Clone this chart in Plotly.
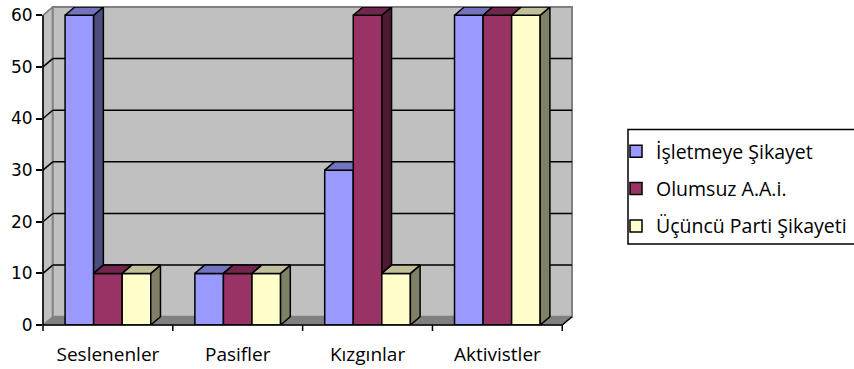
import plotly.graph_objects as go

# ---------------- data ----------------
categories = ["Seslenenler", "Pasifler", "Kızgınlar", "Aktivistler"]
series_names = ["İşletmeye Şikayet", "Olumsuz A.A.i.", "Üçüncü Parti Şikayeti"]
isletmeye_sikayet = [60, 10, 30, 60]
olumsuz_aai = [10, 10, 60, 60]
ucuncu_parti = [10, 10, 10, 60]
y_tick_values = [0, 10, 20, 30, 40, 50, 60]

series_values = [isletmeye_sikayet, olumsuz_aai, ucuncu_parti]

# ---------------- style ----------------
front_colors = ["#9999FF", "#993366", "#FFFFCC"]
top_colors = ["#7373BF", "#73264D", "#BFBF99"]
side_colors = ["#4D4D80", "#4D1A33", "#808066"]
WALL = "#C0C0C0"
WALL_EDGE = "#808080"
FLOOR = "#808080"

BARGAP = 0.34
NS = len(series_values)
W = (1 - BARGAP) / NS
DX = 0.075          # depth offset (x units)
DY = 1.6            # depth offset (y units)
YMAX = max(y_tick_values)
XMIN, XMAX = -0.5, len(categories) - 0.5 + DX
YMIN, YTOP = 0, YMAX + DY

W_PX, H_PX = 854, 369
ML, MR, MT, MB = 43, 282, 7, 44
PLOT_W = W_PX - ML - MR
PLOT_H = H_PX - MT - MB


def px(xd):
    return (xd - XMIN) / (XMAX - XMIN)


def py(yd):
    return (yd - YMIN) / (YTOP - YMIN)


fig = go.Figure()

# front faces as real bars (legend comes from these)
for j, (name, vals) in enumerate(zip(series_names, series_values)):
    fig.add_trace(go.Bar(
        x=list(range(len(categories))), y=vals, name=name,
        marker=dict(color=front_colors[j], line=dict(color="black", width=1.5)),
        legendgroup=name, hoverinfo="skip",
    ))

# side and top faces (painter order, left to right, occlusion-clipped)
edge = dict(color="black", width=1.5)
for i in range(len(categories)):
    for j in range(NS):
        h = series_values[j][i]
        left = i - (1 - BARGAP) / 2 + j * W
        right = left + W
        h_next = series_values[j + 1][i] if j + 1 < NS else None
        # side face
        if h_next is None:
            sx = [right, right + DX, right + DX, right, right]
            sy = [0, DY, h + DY, h, 0]
        elif h > h_next:
            sx = [right, right + DX, right + DX, right, right]
            sy = [h_next, h_next + DY, h + DY, h, h_next]
        else:
            sx = sy = None
        if sx is not None:
            fig.add_trace(go.Scatter(
                x=sx, y=sy, mode="lines", fill="toself", fillcolor=side_colors[j],
                line=edge, showlegend=False, hoverinfo="skip"))
        # top face
        if h_next is not None and h_next > h:
            tx = [left, right, right, left + DX, left]
        else:
            tx = [left, right, right + DX, left + DX, left]
        ty = [h, h, h + DY, h + DY, h]
        fig.add_trace(go.Scatter(
            x=tx, y=ty, mode="lines", fill="toself", fillcolor=top_colors[j],
            line=edge, showlegend=False, hoverinfo="skip"))

shapes = []
x0w, x1w = XMIN, len(categories) - 0.5
# left side wall
shapes.append(dict(type="path", xref="paper", yref="paper", layer="below",
                   path=f"M{px(x0w)},{py(0)} L{px(x0w + DX)},{py(DY)} L{px(x0w + DX)},{py(YMAX + DY)} L{px(x0w)},{py(YMAX)} Z",
                   fillcolor=WALL, line=dict(color=WALL_EDGE, width=1.5)))
# floor
shapes.append(dict(type="path", xref="paper", yref="paper", layer="below",
                   path=f"M{px(x0w)},{py(0)} L{px(x1w)},{py(0)} L{px(x1w + DX)},{py(DY)} L{px(x0w + DX)},{py(DY)} Z",
                   fillcolor=FLOOR, line=dict(color=WALL_EDGE, width=1)))
# back wall
shapes.append(dict(type="rect", xref="paper", yref="paper", layer="below",
                   x0=px(x0w + DX), x1=px(x1w + DX), y0=py(DY), y1=py(YMAX + DY),
                   fillcolor=WALL, line=dict(color=WALL_EDGE, width=2)))
# gridlines on back wall + diagonals on side wall
for v in y_tick_values[1:]:
    col = "black" if v < YMAX else WALL_EDGE
    if v < YMAX:
        shapes.append(dict(type="line", xref="paper", yref="paper", layer="below",
                           x0=px(x0w + DX), x1=px(x1w + DX), y0=py(v + DY), y1=py(v + DY),
                           line=dict(color=col, width=1.5)))
    shapes.append(dict(type="line", xref="paper", yref="paper", layer="below",
                       x0=px(x0w), x1=px(x0w + DX), y0=py(v), y1=py(v + DY),
                       line=dict(color=col, width=1.5)))
# floor right diagonal
shapes.append(dict(type="line", xref="paper", yref="paper",
                   x0=px(x1w), x1=px(x1w + DX), y0=py(0), y1=py(DY),
                   line=dict(color="black", width=1.5)))
# axis lines
shapes.append(dict(type="line", xref="paper", yref="paper",
                   x0=px(x0w), x1=px(x0w), y0=py(0), y1=py(YMAX),
                   line=dict(color="black", width=1.5)))
shapes.append(dict(type="line", xref="paper", yref="paper",
                   x0=px(x0w), x1=px(x1w), y0=py(0), y1=py(0),
                   line=dict(color="black", width=1.5)))
# category boundary ticks
for k in range(len(categories) + 1):
    xb = k - 0.5
    shapes.append(dict(type="line", xref="paper", yref="paper",
                       x0=px(xb), x1=px(xb), y0=0, y1=-6 / PLOT_H,
                       line=dict(color="black", width=1.5)))
# legend box
shapes.append(dict(type="rect", xref="paper", yref="paper",
                   x0=(628 - ML) / PLOT_W, x1=(870 - ML) / PLOT_W,
                   y0=(H_PX - MB - 244) / PLOT_H, y1=(H_PX - MB - 129.5) / PLOT_H,
                   line=dict(color="black", width=1.5), fillcolor="rgba(0,0,0,0)"))

fig.update_layout(
    width=W_PX, height=H_PX,
    margin=dict(l=ML, r=MR, t=MT, b=MB, autoexpand=False),
    paper_bgcolor="white", plot_bgcolor="rgba(0,0,0,0)",
    barmode="group", bargap=BARGAP, bargroupgap=0,
    shapes=shapes,
    showlegend=True,
    legend=dict(
        x=(616 - ML) / PLOT_W, xanchor="left",
        y=(H_PX - MB - 132) / PLOT_H, yanchor="top",
        font=dict(family="Open Sans", size=19.5, color="black"),
        traceorder="grouped", tracegroupgap=9,
        bgcolor="rgba(0,0,0,0)", borderwidth=0,
    ),
    xaxis=dict(
        range=[XMIN, XMAX], showgrid=False, zeroline=False, showline=False,
        tickvals=list(range(len(categories))), ticktext=categories,
        ticks="outside", ticklen=12, tickcolor="rgba(0,0,0,0)",
        tickfont=dict(family="Open Sans", size=19, color="black"),
        fixedrange=True, automargin=False,
    ),
    yaxis=dict(
        range=[YMIN, YTOP], showgrid=False, zeroline=False, showline=False,
        tickvals=y_tick_values, ticks="outside", ticklen=6, tickwidth=1.5,
        tickcolor="black",
        tickfont=dict(family="DejaVu Sans", size=17, color="black"),
        fixedrange=True, automargin=False,
    ),
)

fig.write_html("out.html")
